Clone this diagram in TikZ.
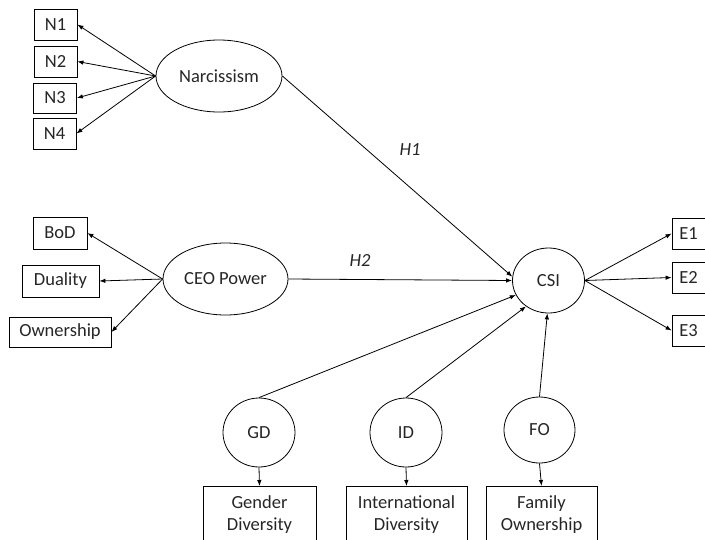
\documentclass[tikz,border=0pt]{standalone}
\usepackage{fontspec}
\setmainfont{Carlito}
\usetikzlibrary{shapes.geometric,arrows.meta}
\begin{document}
\begin{tikzpicture}[x=1pt,y=-1pt,
  every node/.style={font=\fontsize{18.5}{22.2}\selectfont, text=black!85},
  box/.style={draw=black, rectangle, inner sep=0pt, line width=0.8pt},
  lat/.style={draw=black, ellipse, inner sep=0pt, line width=0.8pt},
  arr/.style={-{Latex[length=6pt,width=4.5pt]}, line width=0.8pt, draw=black},
  hyp/.style={font=\fontsize{18.5}{22.2}\selectfont\itshape}]
\useasboundingbox (0,0) rectangle (705,539);

% Narcissism block
\node[box, minimum width=43pt, minimum height=31pt] (n1) at (55.5,24.5) {N1};
\node[box, minimum width=43pt, minimum height=31pt] (n2) at (55.5,61.5) {N2};
\node[box, minimum width=43pt, minimum height=30pt] (n3) at (55,98) {N3};
\node[box, minimum width=43pt, minimum height=31pt] (n4) at (54.5,133.5) {N4};
\node[lat, minimum width=126pt, minimum height=72pt] (narc) at (219,76) {Narcissism};
\draw[arr] (narc.west) -- (n1.east);
\draw[arr] (narc.west) -- (n2.east);
\draw[arr] (narc.west) -- (n3.east);
\draw[arr] (narc.west) -- (n4.east);

% CEO Power block
\node[box, minimum width=54pt, minimum height=32pt] (bod) at (60,233) {BoD};
\node[box, minimum width=77pt, minimum height=32pt] (dual) at (60.5,281) {Duality};
\node[box, minimum width=102pt, minimum height=30pt] (own) at (60,332) {Ownership};
\node[lat, minimum width=125pt, minimum height=72pt] (ceo) at (225.5,279) {CEO Power};
\draw[arr] (ceo.west) -- (bod.east);
\draw[arr] (ceo.west) -- (dual.east);
\draw[arr] (ceo.west) -- (own.east);

% CSI block
\node[lat, minimum width=72pt, minimum height=65pt] (csi) at (548.5,280.5) {CSI};
\node[box, minimum width=33pt, minimum height=31pt] (e1) at (688.5,233.5) {E1};
\node[box, minimum width=33pt, minimum height=31pt] (e2) at (688.5,277.5) {E2};
\node[box, minimum width=33pt, minimum height=31pt] (e3) at (688.5,330.5) {E3};
\draw[arr] (csi.east) -- (e1.west);
\draw[arr] (csi.east) -- (e2.west);
\draw[arr] (csi.east) -- (e3.west);

% Hypotheses
\draw[arr] (narc.east) -- (csi.174);
\draw[arr] (ceo.east) -- (csi.west);
\node[hyp] (h1) at (410,150) {H1};
\node[hyp] (h2) at (360,260) {H2};

% Controls
\node[lat, minimum width=72pt, minimum height=69pt] (gd) at (259,432.5) {GD};
\node[lat, minimum width=72pt, minimum height=69pt] (id) at (406,432.5) {ID};
\node[lat, minimum width=71pt, minimum height=66pt] (fo) at (539.5,430) {FO};
\draw[arr] (gd.north) -- (csi.204);
\draw[arr] (id.north) -- (csi.229);
\draw[arr] (fo.north) -- (csi.268);

\node[box, align=center, minimum width=113pt, minimum height=56pt, anchor=north] (gdb) at (259.5,486) {Gender\\Diversity};
\node[box, align=center, minimum width=121pt, minimum height=56pt, anchor=north] (idb) at (406.5,486) {International\\Diversity};
\node[box, align=center, minimum width=111pt, minimum height=56pt, anchor=north] (fob) at (541.5,486) {Family\\Ownership};
\draw[arr] (gd.south) -- (gdb.north);
\draw[arr] (id.south) -- (idb.north);
\draw[arr] (fo.south) -- (fob.north);
\end{tikzpicture}
\end{document}
